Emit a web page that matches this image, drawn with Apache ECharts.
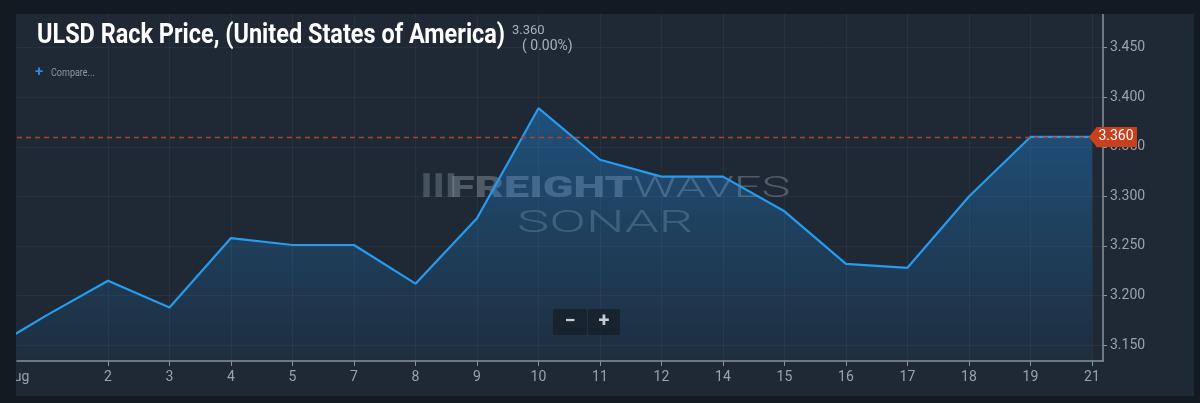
<!DOCTYPE html>
<html>
<head>
<meta charset="utf-8">
<script src="https://cdn.jsdelivr.net/npm/echarts@6/dist/echarts.min.js"></script>
<style>
  html, body { margin: 0; padding: 0; background: #141a21; }
  #panel { position: absolute; left: 16px; top: 14px; width: 1178px; height: 382px; background: #1e2935; overflow: hidden; }
  #chart { width: 1178px; height: 382px; }
</style>
</head>
<body>
<div id="panel"><div id="chart"></div></div>
<script>
// trading days, index 0 = Jul 31 (scrolled off to the left)
const dayLabels = ['31', 'Aug', '2', '3', '4', '5', '7', '8', '9', '10', '11', '12', '14', '15', '16', '17', '18', '19', '21'];
const prices = [3.143, 3.180, 3.215, 3.188, 3.258, 3.251, 3.251, 3.212, 3.278, 3.389, 3.337, 3.320, 3.320, 3.285, 3.232, 3.228, 3.300, 3.360, 3.360];
const yTicks = [3.15, 3.2, 3.25, 3.3, 3.35, 3.4, 3.45];
const monthLabel = 'Aug';
const lastPrice = 3.360;
const lastChange = '( 0.00%)';
const titleText = 'ULSD Rack Price, (United States of America)';

const xMin = 0.52, xMax = 18.18;
const xTicks = dayLabels.map((d, i) => i).filter(i => i >= 2);

const chart = echarts.init(document.getElementById('chart'));
const grey = '#9aa2ac';
const wm = 'rgba(170,180,195,0.36)';

const option = {
    backgroundColor: 'transparent',
    animation: false,
    grid: { left: 1, right: 91, top: 0, bottom: 35, outerBoundsMode: 'none', containLabel: false },
    xAxis: {
        type: 'value',
        min: xMin,
        max: xMax,
        axisLine: { lineStyle: { color: '#8a929c', width: 1.5 } },
        axisTick: { show: true, length: 5, customValues: xTicks, lineStyle: { color: '#8a929c' } },
        axisLabel: {
            customValues: [xMin].concat(xTicks),
            color: grey,
            fontSize: 14,
            fontFamily: 'Roboto',
            margin: 9,
            formatter: v => (v < 1 ? monthLabel : dayLabels[Math.round(v)])
        },
        splitLine: { show: true, lineStyle: { color: 'rgba(255,255,255,0.045)' } }
    },
    yAxis: {
        type: 'value',
        position: 'right',
        min: 3.134,
        max: 3.484,
        axisLine: { show: true, lineStyle: { color: '#8a929c', width: 1.5 } },
        axisTick: { show: true, length: 4, customValues: yTicks, lineStyle: { color: '#8a929c' } },
        axisLabel: {
            customValues: yTicks,
            color: grey,
            fontSize: 14,
            fontFamily: 'Roboto',
            margin: 7,
            formatter: v => v.toFixed(3)
        },
        splitLine: { show: true, lineStyle: { color: 'rgba(255,255,255,0.045)' } }
    },
    series: [{
        type: 'line',
        data: prices.map((p, i) => [i, p]),
        symbol: 'none',
        lineStyle: { color: '#279bf0', width: 2.2 },
        areaStyle: {
            color: new echarts.graphic.LinearGradient(0, 0, 0, 1, [
                { offset: 0, color: 'rgba(36,140,228,0.58)' },
                { offset: 1, color: 'rgba(36,140,228,0.08)' }
            ])
        },
        markLine: {
            silent: true,
            symbol: 'none',
            label: { show: false },
            emphasis: { disabled: true },
            lineStyle: { color: '#b3402a', type: [5, 4], width: 1.4, opacity: 1 },
            data: [{ yAxis: lastPrice }]
        },
        markPoint: {
            silent: true,
            symbol: 'path://M0,10 L8,0 L50,0 L50,20 L8,20 Z',
            symbolSize: [48, 20],
            symbolOffset: [10, 0],
            itemStyle: { color: '#c9401d' },
            label: {
                show: true,
                color: '#fff',
                fontSize: 14,
                fontFamily: 'Roboto',
                offset: [3, 0],
                formatter: () => lastPrice.toFixed(3)
            },
            data: [{ coord: [xMax, lastPrice] }]
        }
    }],
    graphic: [
        {
            type: 'text', x: 21, y: 8, scaleX: 0.838, z: 10,
            style: { text: titleText, fill: '#ffffff', font: 'bold 28px Roboto' }
        },
        {
            type: 'text', x: 496, y: 10, z: 10,
            style: { text: lastPrice.toFixed(3), fill: '#aab1ba', font: '13px Roboto' }
        },
        {
            type: 'text', x: 506, y: 25, z: 10,
            style: { text: lastChange, fill: '#aab1ba', font: '14px Roboto' }
        },
        {
            type: 'text', x: 19, y: 51, z: 10,
            style: { text: '+', fill: '#2f86de', font: 'bold 15px Roboto' }
        },
        {
            type: 'text', x: 35, y: 54, scaleX: 0.9, z: 10,
            style: { text: 'Compare...', fill: '#8d96a1', font: '10px Roboto' }
        },
        // watermark
        {
            type: 'text', x: 401, y: 163, scaleX: 0.8, z: 1,
            style: { text: '\u2590\u2590\u2590', fill: 'rgba(170,180,195,0.3)', font: 'bold 20px DejaVu Sans' }
        },
        {
            type: 'text', x: 434, y: 160, scaleX: 1.5, z: 1,
            style: { text: 'FREIGHT', fill: wm, font: '900 30px Roboto' }
        },
        {
            type: 'text', x: 617, y: 160, scaleX: 1.62, z: 1,
            style: { text: 'WAVES', fill: wm, font: '300 30px Roboto' }
        },
        {
            type: 'text', x: 501, y: 195, scaleX: 1.75, z: 1,
            style: { text: 'SONAR', fill: 'rgba(170,180,195,0.3)', font: '300 31px Roboto' }
        },
        // zoom buttons
        {
            type: 'rect', x: 537, y: 295, z: 10,
            shape: { width: 34, height: 26, r: 2 },
            style: { fill: 'rgba(24,33,44,0.85)' }
        },
        {
            type: 'rect', x: 572, y: 295, z: 10,
            shape: { width: 32, height: 26, r: 2 },
            style: { fill: 'rgba(24,33,44,0.85)' }
        },
        {
            type: 'text', x: 554, y: 308, z: 11,
            style: { text: '\u2212', fill: '#c5ccd4', font: 'bold 20px Roboto', align: 'center', verticalAlign: 'middle' }
        },
        {
            type: 'text', x: 588, y: 308, z: 11,
            style: { text: '+', fill: '#c5ccd4', font: 'bold 20px Roboto', align: 'center', verticalAlign: 'middle' }
        }
    ]
};

chart.setOption(option);
</script>
</body>
</html>
